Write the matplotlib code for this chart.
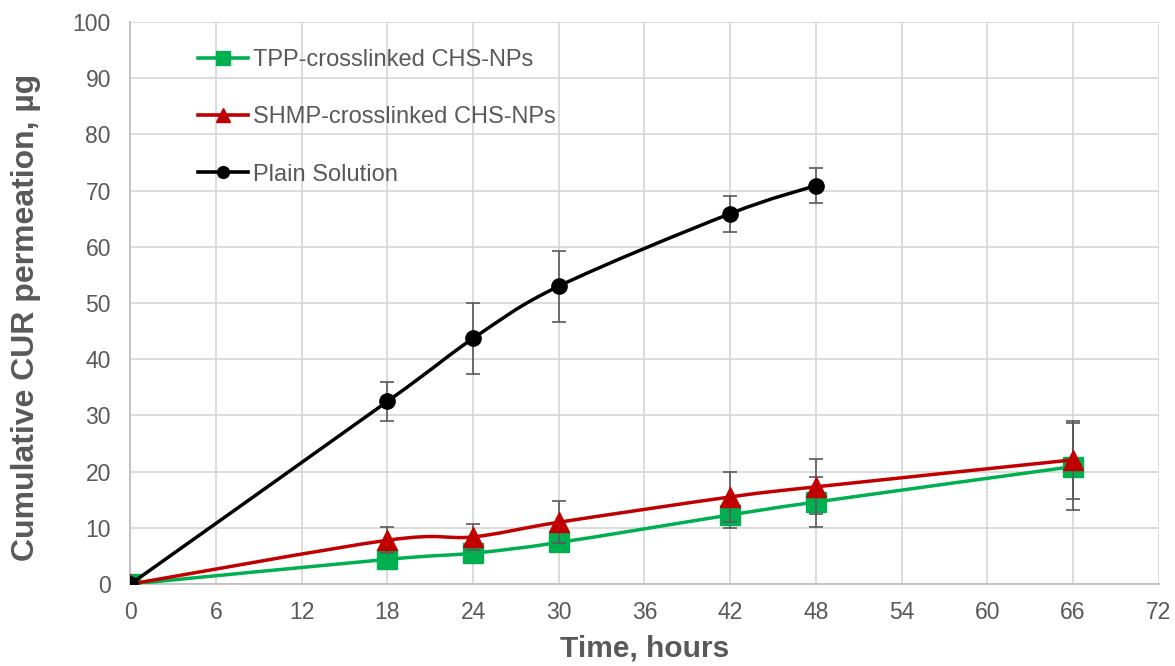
import numpy as np
import matplotlib.pyplot as plt
from matplotlib.path import Path
from matplotlib.patches import PathPatch
from matplotlib.lines import Line2D

plt.rcParams['font.family'] = ['Liberation Sans', 'DejaVu Sans']

# Cumulative permeation data (mean, sd) per formulation
time_h = [0, 18, 24, 30, 42, 48, 66]
tpp_mean = [0, 4.4, 5.5, 7.4, 12.3, 14.6, 20.9]
tpp_sd = [0, 1.0, 1.0, 1.2, 2.3, 4.4, 7.8]
shmp_mean = [0, 7.8, 8.4, 11.0, 15.5, 17.3, 22.1]
shmp_sd = [0, 2.3, 2.3, 3.7, 4.5, 4.9, 7.0]

plain_time = [0, 18, 24, 30, 42, 48]
plain_mean = [0, 32.5, 43.7, 53.0, 65.9, 70.9]
plain_sd = [0, 3.5, 6.3, 6.3, 3.2, 3.1]

labels = ["TPP-crosslinked CHS-NPs", "SHMP-crosslinked CHS-NPs", "Plain Solution"]
x_ticks = list(range(0, 73, 6))
y_ticks = list(range(0, 101, 10))


def smooth_path(x, y):
    """Catmull-Rom style bezier through the points (spreadsheet 'smoothed line')."""
    x = np.asarray(x, float)
    y = np.asarray(y, float)
    pts = np.column_stack([x, y])
    n = len(pts)
    verts = [pts[0]]
    codes = [Path.MOVETO]
    for i in range(n - 1):
        p0 = pts[i - 1] if i > 0 else pts[i]
        p1 = pts[i]
        p2 = pts[i + 1]
        p3 = pts[i + 2] if i + 2 < n else pts[i + 1]
        c1 = p1 + (p2 - p0) / 6.0
        c2 = p2 - (p3 - p1) / 6.0
        verts += [c1, c2, p2]
        codes += [Path.CURVE4] * 3
    return Path(verts, codes)


fig, ax = plt.subplots(figsize=(11.75, 6.66), dpi=100)
fig.subplots_adjust(left=0.111, right=0.986, bottom=0.123, top=0.967)

series = [
    (time_h, tpp_mean, tpp_sd, '#00b050', 's', 14, 9.5),
    (time_h, shmp_mean, shmp_sd, '#c00000', '^', 14, 9.5),
    (plain_time, plain_mean, plain_sd, '#000000', 'o', 11, 8.5),
]

z = 3
for t, m, sd, color, marker, ms, _ in series:
    ax.errorbar(t, m, yerr=sd, fmt='none', ecolor='#595959', elinewidth=1.2,
                capsize=5, capthick=1.2, zorder=z)
    ax.add_patch(PathPatch(smooth_path(t, m), facecolor='none', edgecolor=color,
                           lw=2.5, zorder=z + 0.5, capstyle='round'))
    ax.plot(t, m, linestyle='none', marker=marker, color=color, markersize=ms,
            zorder=z + 1)
    z += 2

ax.set_xlim(0, 72)
ax.set_ylim(0, 100)
ax.set_xticks(x_ticks)
ax.set_yticks(y_ticks)
ax.tick_params(axis='both', length=0, labelsize=16.5, labelcolor='#595959')
ax.tick_params(axis='x', pad=12)
ax.tick_params(axis='y', pad=14)
ax.grid(True, color='#d9d9d9', lw=1.3)
ax.set_axisbelow(True)
for side in ['top', 'right']:
    ax.spines[side].set_visible(False)
for side in ['left', 'bottom']:
    ax.spines[side].set_color('#bfbfbf')
    ax.spines[side].set_linewidth(1.3)

ax.set_xlabel("Time, hours", fontsize=21.5, fontweight='bold', color='#595959', labelpad=8)
ax.set_ylabel("Cumulative CUR permeation, µg", fontsize=23, fontweight='bold',
              color='#595959')
ax.yaxis.set_label_coords(-0.0865, 0.475)

handles = [Line2D([], [], color=s[3], marker=s[4], lw=2.6, markersize=s[6]) for s in series]
leg = ax.legend(handles, labels, loc='upper left', bbox_to_anchor=(0.045, 0.99),
                frameon=False, fontsize=17, labelspacing=1.5, handlelength=2.1,
                handletextpad=0.25, labelcolor='#595959')

fig.savefig("out.png", dpi=100)
